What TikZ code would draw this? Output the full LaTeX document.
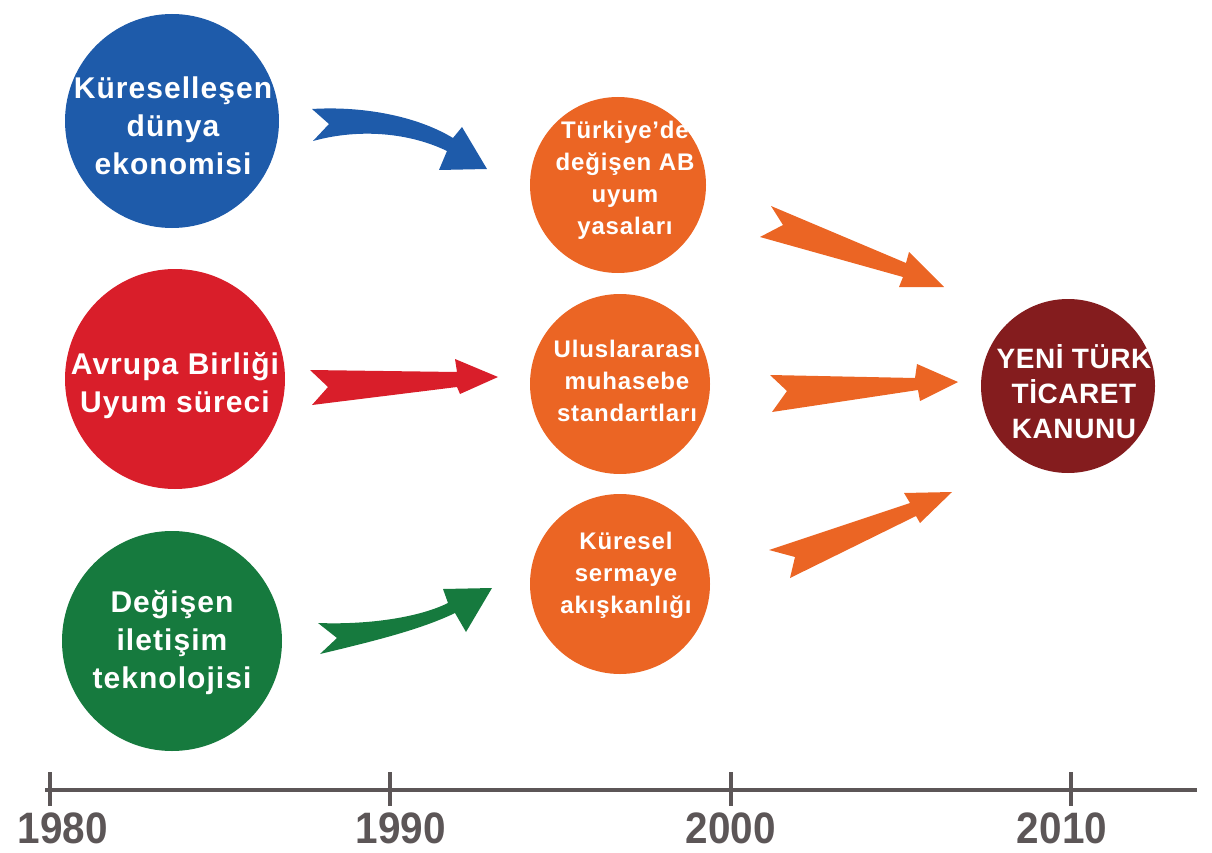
\documentclass[tikz,border=0pt]{standalone}
\usepackage{fontspec}
\setmainfont{Liberation Sans}
\newfontfamily\cf{Liberation Sans}[LetterSpace=3.5]
\newfontfamily\cfb{Liberation Sans}[LetterSpace=2]
\definecolor{cblue}{HTML}{1E5BAA}
\definecolor{cred}{HTML}{D91E2A}
\definecolor{cgreen}{HTML}{167A3E}
\definecolor{corange}{HTML}{EB6524}
\definecolor{cdark}{HTML}{841C1E}
\definecolor{cgray}{HTML}{5C5657}
\tikzset{
  bubble/.style={circle, inner sep=0pt, draw=none},
  bigtxt/.style={text=white, align=center, font=\cf\bfseries\fontsize{30}{38}\selectfont},
  midtxt/.style={text=white, align=center, font=\cf\bfseries\fontsize{24}{32}\selectfont},
  endtxt/.style={text=white, align=center, font=\cfb\bfseries\fontsize{28}{35}\selectfont},
  yeartxt/.style={text=cgray, inner sep=0pt, font=\bfseries\fontsize{44}{46}\selectfont},
  axis/.style={draw=cgray, line width=4pt},
  tick/.style={draw=cgray, line width=4pt}
}
\begin{document}
\begin{tikzpicture}[x=1pt,y=-1pt]
\useasboundingbox (0,0) rectangle (1212,853);
% circles
\node[bubble, fill=cblue, minimum size=214pt] (c1) at (172,121) {};
\node[bubble, fill=cred, minimum size=220pt] (c2) at (175,379) {};
\node[bubble, fill=cgreen, minimum size=220pt] (c3) at (172,641) {};
\node[bubble, fill=corange, minimum size=176pt] (o1) at (618,185) {};
\node[bubble, fill=corange, minimum size=180pt] (o2) at (620,384) {};
\node[bubble, fill=corange, minimum size=180pt] (o3) at (620,584) {};
\node[bubble, fill=cdark, minimum size=174pt] (d1) at (1068,386) {};
% texts
\node[bigtxt] (t1) at (173,126) {Küreselleşen\\dünya\\ekonomisi};
\node[bigtxt] (t2) at (175,386) {Avrupa Birliği\\Uyum süreci};
\node[bigtxt] (t3) at (172,643) {Değişen\\iletişim\\teknolojisi};
\node[midtxt] (u1) at (625,180) {Türkiye’de\\değişen AB\\uyum\\yasaları};
\node[midtxt] (u2) at (627,381) {Uluslararası\\muhasebe\\standartları};
\node[midtxt] (u3) at (626,575) {Küresel\\sermaye\\akışkanlığı};
\node[endtxt] (e1) at (1074,392) {YENİ TÜRK\\TİCARET\\KANUNU};
% arrows
\fill[cblue] (312,109) .. controls (360,106) and (415,115) .. (453,138) -- (462,127) -- (487,169) -- (439,170) -- (447,151) .. controls (410,133) and (360,128) .. (313,141) -- (329,124) -- cycle;
\fill[cred] (310,370) -- (457,372) -- (455,359) -- (498,377) -- (460,394) -- (457,387) -- (312,405) -- (328,387) -- cycle;
\fill[cgreen] (318,623) .. controls (370,625) and (420,617) .. (448,603) -- (443,589) -- (492,588) -- (466,632) -- (455,613) .. controls (420,630) and (370,642) .. (320,654) -- (337,638) -- cycle;
\fill[corange] (771,206) -- (906,263) -- (909,252) -- (944,287) -- (899,287) -- (903,277) -- (760,237) -- (783,225) -- cycle;
\fill[corange] (770,375) -- (915,378) -- (917,364) -- (958,382) -- (920,401) -- (918,390) -- (772,412) -- (787,391) -- cycle;
\fill[corange] (769,550) -- (910,503) -- (904,493) -- (952,492) -- (920,523) -- (916,516) -- (790,578) -- (795,557) -- cycle;
% timeline
\coordinate (a0) at (45,790);
\coordinate (a1) at (1197,790);
\draw[axis] (a0) -- (a1);
\foreach \x/\n in {50/k1,390/k2,731/k3,1071/k4} {
  \coordinate (\n a) at (\x,772);
  \coordinate (\n b) at (\x,806);
  \draw[tick] (\n a) -- (\n b);
}
\node[yeartxt, anchor=base] (y1) at (63,843) {\scalebox{0.92}[1]{1980}};
\node[yeartxt, anchor=base] (y2) at (401,843) {\scalebox{0.92}[1]{1990}};
\node[yeartxt, anchor=base] (y3) at (731,843) {\scalebox{0.92}[1]{2000}};
\node[yeartxt, anchor=base] (y4) at (1062,843) {\scalebox{0.92}[1]{2010}};
\end{tikzpicture}
\end{document}
